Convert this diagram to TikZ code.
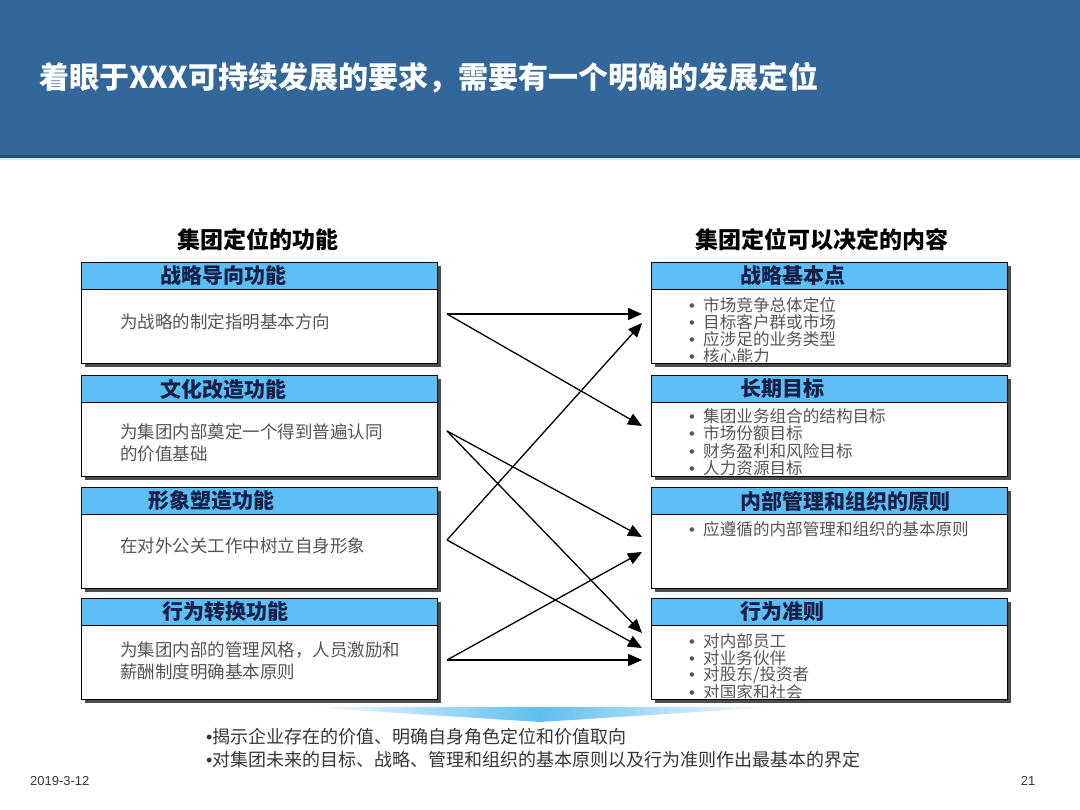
\documentclass[tikz,border=0pt]{standalone}
\usepackage{fontspec}
\setmainfont{Noto Sans CJK SC}
\newfontfamily\latinsf{Liberation Sans}
\usetikzlibrary{arrows.meta,shadows}
\definecolor{titlebg}{RGB}{51,102,153}
\definecolor{titleline}{RGB}{38,78,118}
\definecolor{titlecyan}{RGB}{205,236,250}
\definecolor{hdrfill}{RGB}{92,190,245}
\definecolor{hdrtext}{RGB}{22,32,70}
\definecolor{bodytext}{RGB}{85,85,85}
\definecolor{shadowc}{RGB}{75,75,75}
\definecolor{bandc}{RGB}{95,190,240}
\definecolor{foottext}{RGB}{55,55,55}
\newcommand\bul{\makebox[14pt][l]{\latinsf•}}
\newcommand\fbul{{\latinsf•}}
\tikzset{
  panel/.style={draw=black, line width=1.4pt, fill=white, minimum width=356pt, minimum height=101pt,
    anchor=north west, inner sep=0pt,
    drop shadow={shadow xshift=3.5pt, shadow yshift=-3.5pt, fill=shadowc, opacity=1}},
  hdr/.style={draw=black, line width=1.2pt, fill=hdrfill, minimum width=356pt, minimum height=27pt,
    anchor=north west, inner sep=0pt},
  hdrtxt/.style={anchor=west, inner sep=0pt, text=hdrtext, font=\fontsize{21}{22}\selectfont\bfseries},
  bodytxt/.style={anchor=west, inner sep=0pt, text=bodytext, font=\fontsize{17.5}{18}\selectfont},
  bultxt/.style={anchor=west, inner sep=0pt, text=bodytext, font=\fontsize{16.6}{17}\selectfont},
  heading/.style={inner sep=0pt, text=black, font=\fontsize{23}{24}\selectfont\bfseries},
  foot/.style={anchor=west, inner sep=0pt, text=foottext, font=\fontsize{18}{19}\selectfont},
  conn/.style={line width=1.3pt, draw=black, -{Triangle[length=14pt,width=12pt]}},
}
\begin{document}
\begin{tikzpicture}[x=1pt,y=-1pt]
\useasboundingbox (0,0) rectangle (1080,810);
\fill[white] (0,0) rectangle (1080,810);
% title bar
\fill[titlebg] (0,0) rectangle (1080,156);
\fill[titleline] (0,155) rectangle (1080,158);
\fill[titlecyan] (0,158) rectangle (1080,160);
\node[anchor=west, inner sep=0pt, text=white, font=\fontsize{30}{31}\selectfont\bfseries] (title) at (39,78)
  {着眼于XXX可持续发展的要求，需要有一个明确的发展定位};
% headings
\node[heading] (hl) at (258,240) {集团定位的功能};
\node[heading] (hr) at (822,240) {集团定位可以决定的内容};
% left panels
\node[panel] (L1) at (81,262) {};
\node[hdr] (L1h) at (81,262) {};
\node[hdrtxt] (L1t) at (160,276) {战略导向功能};
\node[bodytxt] (L1b) at (120,322) {为战略的制定指明基本方向};

\node[panel] (L2) at (81,375) {};
\node[hdr] (L2h) at (81,375) {};
\node[hdrtxt] (L2t) at (160,389) {文化改造功能};
\node[bodytxt] (L2b) at (120,432) {为集团内部奠定一个得到普遍认同};
\node[bodytxt] (L2c) at (120,454) {的价值基础};

\node[panel] (L3) at (81,487) {};
\node[hdr] (L3h) at (81,487) {};
\node[hdrtxt] (L3t) at (148,501) {形象塑造功能};
\node[bodytxt] (L3b) at (120,546) {在对外公关工作中树立自身形象};

\node[panel] (L4) at (81,598) {};
\node[hdr] (L4h) at (81,598) {};
\node[hdrtxt] (L4t) at (162,612) {行为转换功能};
\node[bodytxt] (L4b) at (120,650) {为集团内部的管理风格，人员激励和};
\node[bodytxt] (L4c) at (120,672) {薪酬制度明确基本原则};

% right panels
\node[panel] (R1) at (651,262) {};
\node[hdr] (R1h) at (651,262) {};
\node[hdrtxt] (R1t) at (740,276) {战略基本点};
\begin{scope}
\clip (651,289) rectangle (1007,362);
\node[bultxt] (R1a) at (689,305) {\bul 市场竞争总体定位};
\node[bultxt] (R1b) at (689,322) {\bul 目标客户群或市场};
\node[bultxt] (R1c) at (689,339) {\bul 应涉足的业务类型};
\node[bultxt] (R1d) at (689,356) {\bul 核心能力};
\end{scope}

\node[panel] (R2) at (651,375) {};
\node[hdr] (R2h) at (651,375) {};
\node[hdrtxt] (R2t) at (740,389) {长期目标};
\begin{scope}
\clip (651,402) rectangle (1007,475);
\node[bultxt] (R2a) at (689,416) {\bul 集团业务组合的结构目标};
\node[bultxt] (R2b) at (689,433.5) {\bul 市场份额目标};
\node[bultxt] (R2c) at (689,451) {\bul 财务盈利和风险目标};
\node[bultxt] (R2d) at (689,468.5) {\bul 人力资源目标};
\end{scope}

\node[panel] (R3) at (651,487) {};
\node[hdr] (R3h) at (651,487) {};
\node[hdrtxt] (R3t) at (740,501) {内部管理和组织的原则};
\node[bultxt] (R3a) at (689,529) {\bul 应遵循的内部管理和组织的基本原则};

\node[panel] (R4) at (651,598) {};
\node[hdr] (R4h) at (651,598) {};
\node[hdrtxt] (R4t) at (740,612) {行为准则};
\begin{scope}
\clip (651,626) rectangle (1007,697);
\node[bultxt] (R4a) at (689,641) {\bul 对内部员工};
\node[bultxt] (R4b) at (689,658) {\bul 对业务伙伴};
\node[bultxt] (R4c) at (689,675) {\bul 对股东/投资者};
\node[bultxt] (R4d) at (689,692) {\bul 对国家和社会};
\end{scope}

% connector end points
\coordinate (a1) at (447,314);
\coordinate (a2) at (447,431);
\coordinate (a3) at (447,540);
\coordinate (a4) at (447,660);
\coordinate (b1) at (642,314);
\coordinate (b2) at (642,323);
\coordinate (b3) at (642,426);
\coordinate (b4) at (642,537);
\coordinate (b5) at (642,552);
\coordinate (b6) at (642,633);
\coordinate (b7) at (642,648);
\coordinate (b8) at (642,660);
\draw[conn] (a1) -- (b1);
\draw[conn] (a1) -- (b3);
\draw[conn] (a2) -- (b4);
\draw[conn] (a2) -- (b6);
\draw[conn] (a3) -- (b2);
\draw[conn] (a3) -- (b7);
\draw[conn] (a4) -- (b5);
\draw[conn] (a4) -- (b8);

% bottom band
\shade[left color=white, right color=white, middle color=bandc] (305,707) -- (775,707) -- (540,722) -- cycle;
\node[foot] (f1) at (206,737) {\fbul 揭示企业存在的价值、明确自身角色定位和价值取向};
\node[foot] (f2) at (206,760) {\fbul 对集团未来的目标、战略、管理和组织的基本原则以及行为准则作出最基本的界定};

% footer
\node[anchor=west, inner sep=0pt, text=foottext, font=\latinsf\fontsize{13}{14}\selectfont] (date) at (30,781) {2019-3-12};
\node[inner sep=0pt, text=foottext, font=\latinsf\fontsize{13}{14}\selectfont] (page) at (1028,781) {21};
\end{tikzpicture}
\end{document}
